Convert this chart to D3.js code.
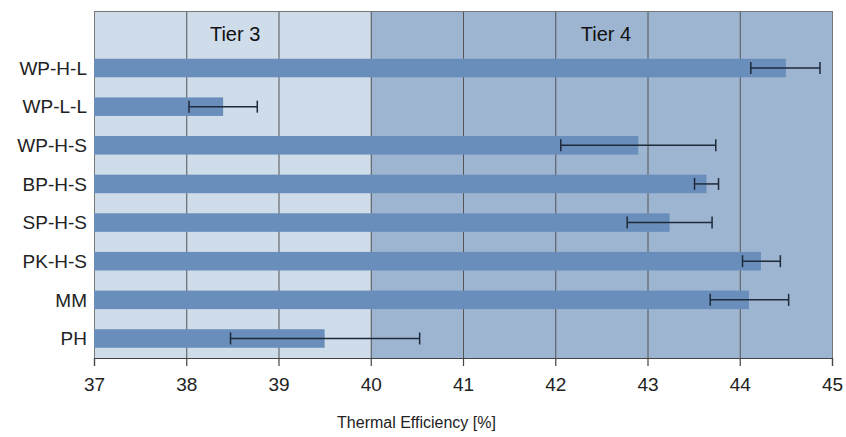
<!DOCTYPE html>
<html><head><meta charset="utf-8">
<script src="https://cdn.jsdelivr.net/npm/d3@7"></script>
<style>body{margin:0;background:#fff}svg{display:block;font-family:"Liberation Sans",Arial,sans-serif}</style>
</head><body><svg id="c" width="846" height="437"></svg>
<script>
const categories = ["WP-H-L","WP-L-L","WP-H-S","BP-H-S","SP-H-S","PK-H-S","MM","PH"];
const values     = [44.50, 38.40, 42.90, 43.64, 43.24, 44.23, 44.10, 39.50];
const errLow     = [44.12, 38.03, 42.06, 43.51, 42.78, 44.03, 43.68, 38.48];
const errHigh    = [44.87, 38.77, 43.74, 43.77, 43.70, 44.44, 44.53, 40.53];
const xTicks     = [37,38,39,40,41,42,43,44,45];
const tiers      = [{name:"Tier 3", from:37, to:40}, {name:"Tier 4", from:40, to:45}];
const xTitle     = "Thermal Efficiency [%]";

const svg = d3.select("#c");
const L = 94, R = 832, T = 11, B = 358;
const x = d3.scaleLinear().domain([37,45]).range([L,R]);
const y = d3.scaleBand().domain(categories).range([48.7,357.8]).paddingInner(0.52).paddingOuter(0.26);

const tierColors = ["#cfdcea","#9db5d0"];
svg.selectAll("rect.tier").data(tiers).join("rect").attr("class","tier")
  .attr("x",d=>x(d.from)).attr("width",d=>x(d.to)-x(d.from))
  .attr("y",T).attr("height",B-T).attr("fill",(d,i)=>tierColors[i]);

svg.append("g").selectAll("line").data(xTicks.slice(1,-1)).join("line")
  .attr("x1",d=>x(d)+0.5).attr("x2",d=>x(d)+0.5).attr("y1",T).attr("y2",B)
  .attr("stroke","#555").attr("stroke-width",1);

svg.append("rect").attr("x",L+0.5).attr("y",T+0.5).attr("width",R-L).attr("height",B-T)
  .attr("fill","none").attr("stroke","#777").attr("stroke-width",1);

svg.selectAll("text.tier").data(tiers).join("text").attr("class","tier")
  .attr("x",(d,i)=> i===0 ? x(38.53) : x(42.55)).attr("y",41)
  .attr("text-anchor","middle").attr("font-size",20).attr("fill","#111").text(d=>d.name);

svg.append("g").selectAll("rect").data(categories).join("rect")
  .attr("x",x(37)).attr("y",d=>y(d)).attr("height",y.bandwidth())
  .attr("width",(d,i)=>x(values[i])-x(37)).attr("fill","#6a8ebb");

const eb = svg.append("g").attr("stroke","#1e2a3a").attr("stroke-width",1.5);
categories.forEach((c,i)=>{
  const cy = y(c)+y.bandwidth()/2;
  eb.append("line").attr("x1",x(errLow[i])).attr("x2",x(errHigh[i])).attr("y1",cy).attr("y2",cy);
  eb.append("line").attr("x1",x(errLow[i])).attr("x2",x(errLow[i])).attr("y1",cy-6).attr("y2",cy+6);
  eb.append("line").attr("x1",x(errHigh[i])).attr("x2",x(errHigh[i])).attr("y1",cy-6).attr("y2",cy+6);
});

svg.append("g").selectAll("text").data(categories).join("text")
  .attr("x",L-7).attr("y",d=>y(d)+y.bandwidth()/2).attr("dy","0.36em")
  .attr("text-anchor","end").attr("font-size",19).attr("fill","#222").text(d=>d);

const xa = svg.append("g").attr("transform",`translate(0,${B})`)
  .call(d3.axisBottom(x).tickValues(xTicks).tickSize(8).tickPadding(12).tickFormat(d3.format("d")));
xa.select(".domain").attr("stroke","#444").attr("stroke-width",1.2);
xa.selectAll(".tick line").attr("stroke","#444").attr("stroke-width",1.2);
xa.selectAll(".tick text").attr("font-size",19).attr("fill","#222").attr("font-family","Liberation Sans, Arial, sans-serif");

svg.append("text").attr("x",416.5).attr("y",428).attr("text-anchor","middle")
  .attr("font-size",16).attr("fill","#222").text(xTitle);
</script></body></html>
